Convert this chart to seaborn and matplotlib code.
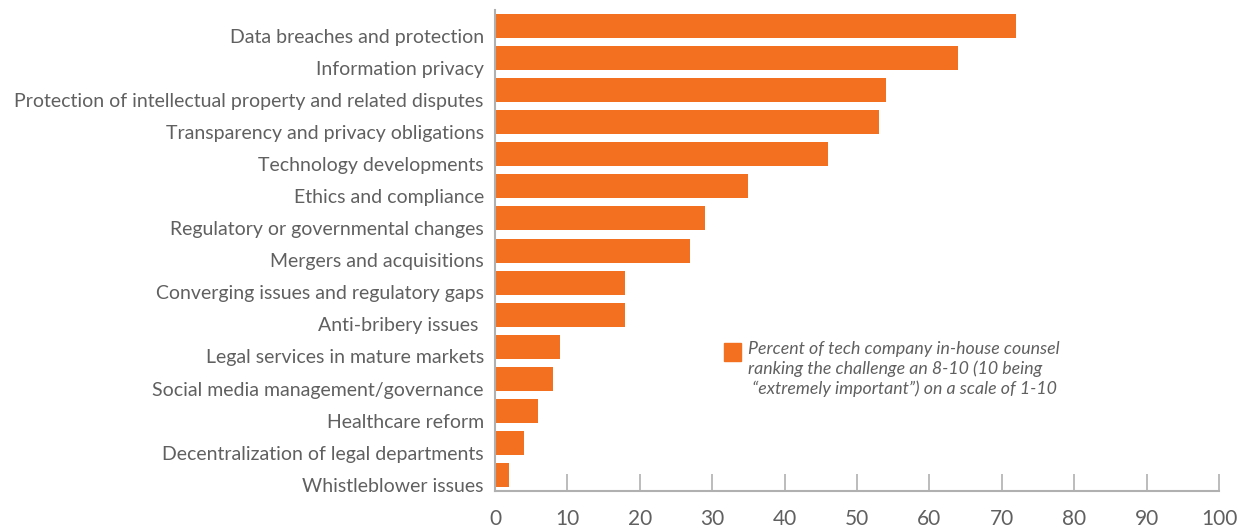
import matplotlib
matplotlib.use('Agg')
import matplotlib.pyplot as plt
from matplotlib.patches import Rectangle
from matplotlib.transforms import ScaledTranslation
import seaborn as sns
import pandas as pd

# challenges and share ranking them 8-10
challenges = [
    'Data breaches and protection',
    'Information privacy',
    'Protection of intellectual property and related disputes',
    'Transparency and privacy obligations',
    'Technology developments',
    'Ethics and compliance',
    'Regulatory or governmental changes',
    'Mergers and acquisitions',
    'Converging issues and regulatory gaps',
    'Anti-bribery issues ',
    'Legal services in mature markets',
    'Social media management/governance',
    'Healthcare reform',
    'Decentralization of legal departments',
    'Whistleblower issues',
]
percent = [72, 64, 54, 53, 46, 35, 29, 27, 18, 18, 9, 8, 6, 4, 2]
x_ticks = [0, 10, 20, 30, 40, 50, 60, 70, 80, 90, 100]
legend_label = ('Percent of tech company in-house counsel\n'
                'ranking the challenge an 8-10 (10 being\n'
                ' \u201cextremely important\u201d) on a scale of 1-10')

df = pd.DataFrame({'challenge': challenges, 'percent': percent})

orange = '#F37021'
grey = '#606060'
axis_grey = '#b0b0b0'

sns.set_theme(style='white')
plt.rcParams['font.family'] = ['Lato', 'DejaVu Sans']

fig = plt.figure(figsize=(12.55, 5.28), dpi=100)
ax = fig.add_axes([0.3944, 0.070, 0.5769, 0.911])

sns.barplot(data=df, y='challenge', x='percent', color=orange, saturation=1,
            width=0.75, linewidth=0, ax=ax)

ax.set_xlim(0, 100)
ax.set_xticks(x_ticks)
ax.set_xlabel('')
ax.set_ylabel('')
ax.tick_params(axis='x', bottom=True, direction='in', length=12, width=1.2,
               color=axis_grey, labelsize=15, labelcolor=grey, pad=13)
ax.tick_params(axis='y', left=False, length=0, labelsize=14, labelcolor=grey, pad=8)

# labels sit a bit below the bar centres in the original
offset = ScaledTranslation(0, -7 / 72, fig.dpi_scale_trans)
for lab in ax.get_yticklabels():
    lab.set_transform(lab.get_transform() + offset)

for side in ['top', 'right']:
    ax.spines[side].set_visible(False)
for side in ['left', 'bottom']:
    ax.spines[side].set_color(axis_grey)
    ax.spines[side].set_linewidth(1.5)

# legend: square + italic note
ax.add_patch(Rectangle((0.3163, 0.2703), 0.0235, 0.0374, transform=ax.transAxes,
                       color=orange, clip_on=False))
ax.text(0.3494, 0.312, legend_label, transform=ax.transAxes, va='top', ha='left',
        fontsize=12.8, style='italic', color=grey, linespacing=1.25)

fig.savefig('out.png', dpi=100)
